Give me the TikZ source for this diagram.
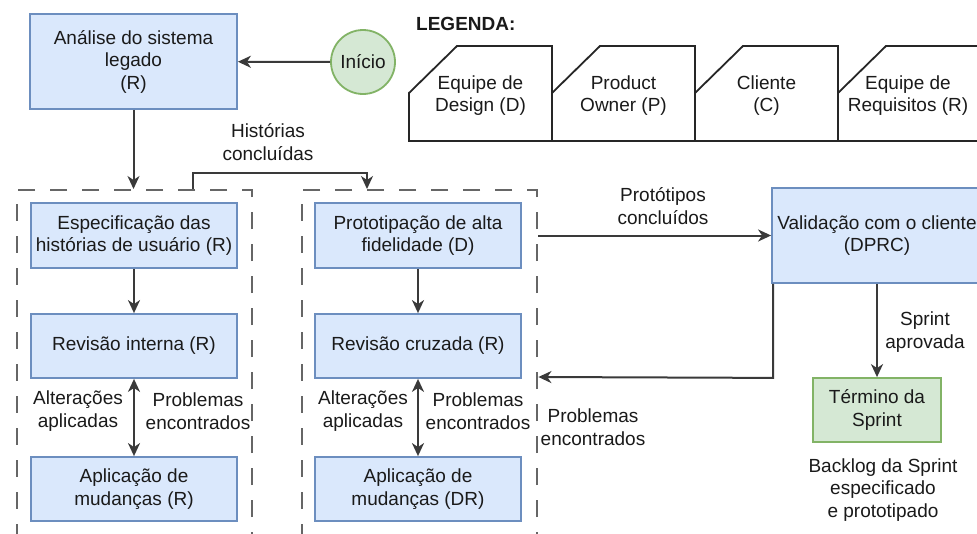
\documentclass[tikz,border=0pt]{standalone}
\usepackage{fontspec}
\setmainfont{Liberation Sans}
\usetikzlibrary{arrows.meta,calc}
\definecolor{bluefill}{HTML}{DAE8FC}
\definecolor{bluedraw}{HTML}{6C8EBF}
\definecolor{greenfill}{HTML}{D5E8D4}
\definecolor{greendraw}{HTML}{82B366}
\definecolor{linegray}{HTML}{3A3A3A}
\definecolor{dashgray}{HTML}{666666}
\definecolor{txt}{HTML}{1A1A1A}
\begin{document}
\begin{tikzpicture}[x=1pt,y=-1pt,
  font=\fontsize{19}{22.5}\selectfont,
  every node/.style={text=txt},
  bbox/.style={draw=bluedraw, fill=bluefill, line width=1.8pt, align=center, inner sep=0pt, minimum width=206pt, minimum height=65pt},
  gbox/.style={draw=greendraw, fill=greenfill, line width=1.8pt, align=center, inner sep=0pt},
  cont/.style={draw=dashgray, line width=2.4pt, dash pattern=on 17pt off 15pt, anchor=north west, inner sep=0pt, minimum width=235pt, minimum height=380pt},
  lbl/.style={align=center, inner sep=0pt},
  conn/.style={draw=linegray, line width=2pt, -{Stealth[length=13pt,width=12pt,inset=4pt]}},
  dconn/.style={draw=linegray, line width=2pt, {Stealth[length=13pt,width=12pt,inset=4pt]}-{Stealth[length=13pt,width=12pt,inset=4pt]}},
  legshape/.style={draw=black!85, line width=1.8pt, line join=miter}
]
\path[use as bounding box, clip] (0,0) rectangle (977,533);
\fill[white] (0,0) rectangle (977,533);

% containers
\node[cont] (c1) at (16,189) {};
\node[cont] (c2) at (301,189) {};

% top part
\node[bbox, minimum width=207pt, minimum height=95pt] (ana) at (133.5,61.5) {Análise do sistema\\legado\\(R)};
\node[gbox, circle, minimum size=64pt] (ini) at (363,62) {Início};
\draw[conn] (ini) -- (ana);
\draw[conn] (ana.south) -- (ana.south |- c1.north);

% Histórias concluídas
\coordinate (hA) at (193,189);
\coordinate (hB) at (367,189);
\draw[conn] (hA) -- ++(0,-16) -| (hB);
\node[lbl] (lhist) at (268,142) {Histórias\\concluídas};

% left column
\node[bbox] (esp) at (134,235.5) {Especificação das\\histórias de usuário (R)};
\node[bbox, minimum height=64pt] (rev1) at (134,346) {Revisão interna (R)};
\node[bbox, minimum height=64pt] (apl1) at (134,489) {Aplicação de\\mudanças (R)};
\draw[conn] (esp) -- (rev1);
\draw[dconn] (rev1) -- (apl1);
\node[lbl] (alt1) at (78,411) {Alterações\\aplicadas};
\node[lbl] (prob1) at (198,411) {Problemas\\encontrados};

% middle column
\node[bbox] (pro) at (418,235.5) {Prototipação de alta\\fidelidade (D)};
\node[bbox, minimum height=64pt] (rev2) at (418,346) {Revisão cruzada (R)};
\node[bbox, minimum height=64pt] (apl2) at (418,489) {Aplicação de\\mudanças (DR)};
\draw[conn] (pro) -- (rev2);
\draw[dconn] (rev2) -- (apl2);
\node[lbl] (alt2) at (363,411) {Alterações\\aplicadas};
\node[lbl] (prob2) at (478,411) {Problemas\\encontrados};

% right part
\node[bbox, minimum width=210pt, minimum height=95pt] (val) at (877,235.5) {Validação com o cliente\\(DPRC)};
\node[gbox, minimum width=128pt, minimum height=64pt] (ter) at (877,410) {Término da\\Sprint};
\draw[conn] (c2.east |- val.west) -- (val.west);
\node[lbl] (lprot) at (663,206) {Protótipos\\concluídos};
\coordinate (fb) at ($(val.south west)+(2,0)$);
\draw[conn] (fb) -- ++(0,94) -- (c2.east |- 0,377);
\node[lbl] (lprob) at (593,427) {Problemas\\encontrados};
\draw[conn] (val) -- (ter);
\node[lbl] (lspr) at (925,332) {Sprint\\aprovada};
\node[lbl] (lback) at (883,490) {Backlog da Sprint\\especificado\\e prototipado};

% legend
\node[lbl, anchor=west, font=\fontsize{19}{22.5}\selectfont\bfseries] (leg) at (416,24) {LEGENDA:};
\foreach \i in {0,1,2,3} {
  \pgfmathsetmacro{\L}{409+143*\i}
  \draw[legshape] (\L,141) -- (\L,93) -- (\L+48,46) -- (\L+143,46) -- (\L+143,141) -- cycle;
}
\node[lbl] (lgD) at (480.5,95.5) {Equipe de\\Design (D)};
\node[lbl] (lgP) at (623.5,95.5) {Product\\Owner (P)};
\node[lbl] (lgC) at (766.5,95.5) {Cliente\\(C)};
\node[lbl] (lgR) at (908,95.5) {Equipe de\\Requisitos (R)};
\end{tikzpicture}
\end{document}
